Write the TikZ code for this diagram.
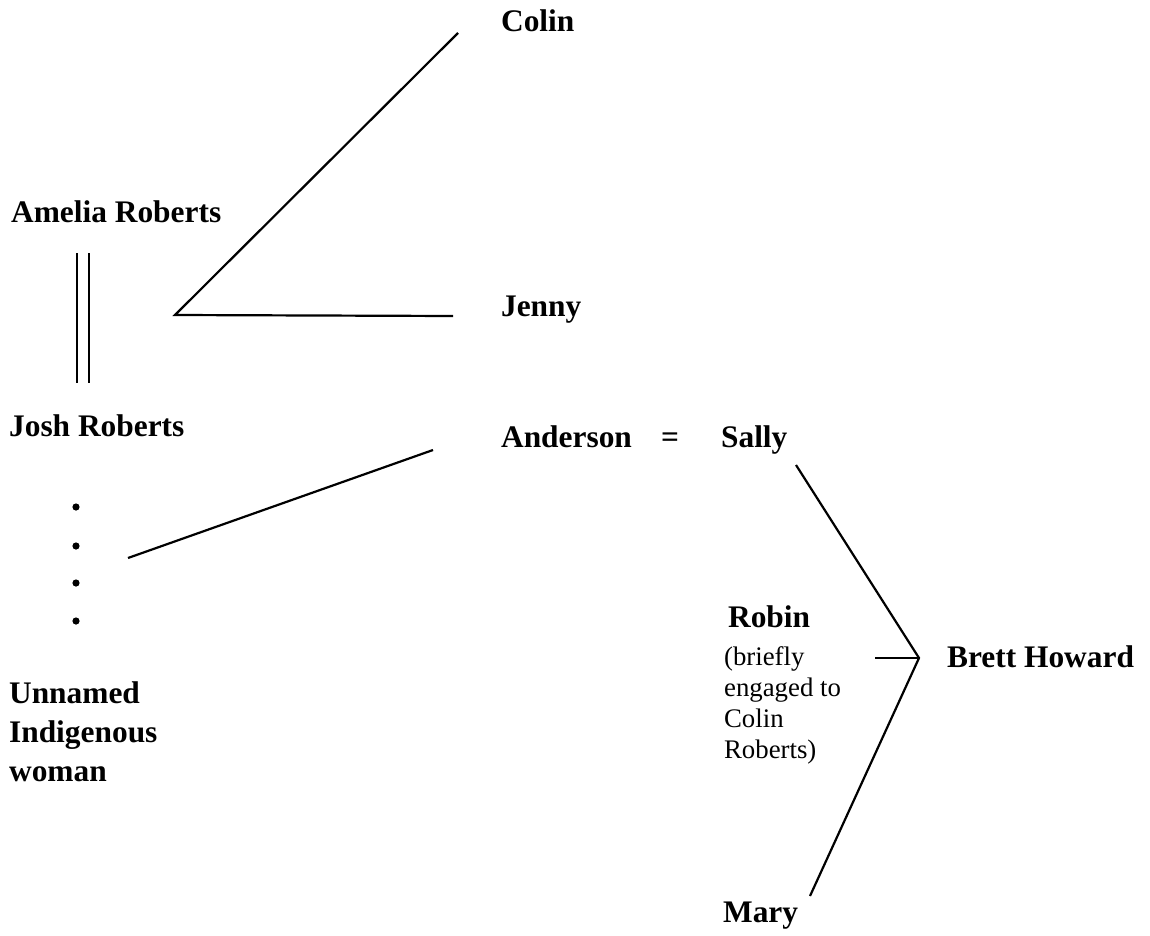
\documentclass[tikz,border=0pt]{standalone}
\usepackage{fontspec}
\setmainfont{Liberation Serif}
\begin{document}
\begin{tikzpicture}[x=0.5pt,y=-0.5pt,line width=1.1pt,
    every node/.style = {inner sep=0pt, anchor=base west, align=left},
    person/.style = {font=\fontsize{15.7}{19.5}\selectfont\bfseries},
    note/.style = {font=\fontsize{13.4}{15.5}\selectfont}]
    \useasboundingbox (0,0) rectangle (1150,936);
    % people (multi-line nodes sit on their last line)
    \node [person] (colin) at (500,32) {Colin};
    \node [person] (amelia) at (10,222) {Amelia Roberts};
    \node [person] (jenny) at (500,316) {Jenny};
    \node [person] (josh) at (8,436) {Josh Roberts};
    \node [person] (anderson) at (500,447) {Anderson};
    \node [person] (eq) at (660,447) {=};
    \node [person] (sally) at (720,447) {Sally};
    \node [person] (unnamed) at (8,781) {Unnamed\\Indigenous\\woman};
    \node [person] (robin) at (727,627) {Robin};
    \node [note] (engaged) at (723,758) {(briefly\\engaged to\\Colin\\Roberts)};
    \node [person] (brett) at (946,667) {Brett Howard};
    \node [person] (mary) at (722,922) {Mary};
    % line ends
    \coordinate (fork) at (175,315);
    \coordinate (colinend) at (458,33);
    \coordinate (jennyend) at (453,316);
    \coordinate (dotsend) at (128,558);
    \coordinate (andersonend) at (433,450);
    \coordinate (sallyend) at (796,465);
    \coordinate (brettfork) at (919,658);
    \coordinate (robinend) at (875,658);
    \coordinate (maryend) at (810,896);
    % connectors
    \draw (77,253) -- (77,383);
    \draw (89,253) -- (89,383);
    \draw (colinend) -- (fork) -- (jennyend);
    \draw (dotsend) -- (andersonend);
    \draw (sallyend) -- (brettfork) -- (maryend);
    \draw (robinend) -- (brettfork);
    \foreach \y in {507,546,583,621}
        \fill (76,\y) circle (1.8pt);
\end{tikzpicture}
\end{document}
